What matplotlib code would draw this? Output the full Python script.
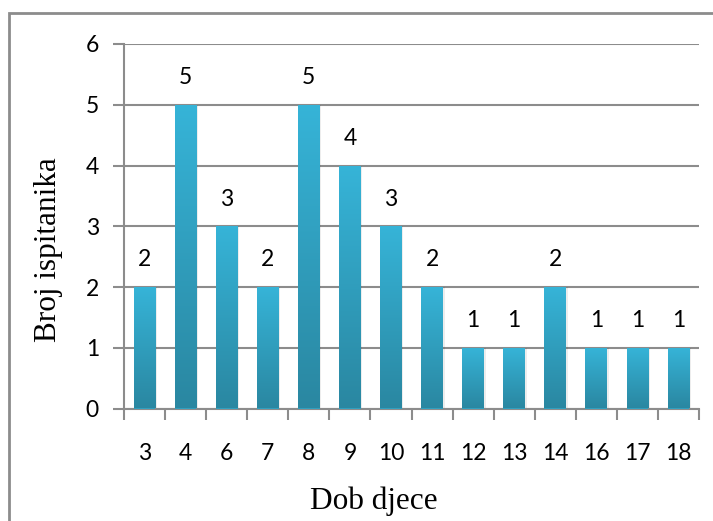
import matplotlib.pyplot as plt
import numpy as np
from matplotlib.colors import LinearSegmentedColormap

# age of children and number of respondents
ages = ["3", "4", "6", "7", "8", "9", "10", "11", "12", "13", "14", "16", "17", "18"]
counts = [2, 5, 3, 2, 5, 4, 3, 2, 1, 1, 2, 1, 1, 1]

tick_font = "Lato"
label_font = "Liberation Serif"
grid_col = "#8c8c8c"
grad = LinearSegmentedColormap.from_list("bar", ["#2a87a1", "#36b4d8"])

fig = plt.figure(figsize=(7.13, 5.21), dpi=100)
ax = fig.add_axes([124 / 713, 1 - 408.5 / 521, 575 / 713, 364.5 / 521])

x = np.arange(len(ages))
bars = ax.bar(x, counts, width=0.53, color="#30a0c0", zorder=3)

# vertical gradient inside each bar + soft shadow on the right
g = np.linspace(0, 1, 256).reshape(-1, 1)
for b in bars:
    x0, w, h = b.get_x(), b.get_width(), b.get_height()
    sh = plt.Rectangle((x0 + 0.04, 0), w, h, color="#000000", alpha=0.07, zorder=2, lw=0)
    ax.add_patch(sh)
    im = ax.imshow(g, cmap=grad, origin="lower", aspect="auto",
                   extent=(x0, x0 + w, 0, h), zorder=3)
    im.set_clip_path(b)

for xi, c in zip(x, counts):
    ax.annotate(str(c), (xi, c), xytext=(0, 12), textcoords="offset points",
                ha="center", va="bottom", fontsize=16.5, family=tick_font)

ax.set_xlim(-0.5, len(ages) - 0.5)
ax.set_ylim(0, 6)
ax.set_yticks(range(7))
ax.set_xticks(np.arange(len(ages) + 1) - 0.5, minor=False)
ax.set_xticklabels([])
ax.set_xticks(x, minor=True)
ax.set_xticklabels(ages, minor=True, fontsize=16.5, family=tick_font)
ax.tick_params(axis="x", which="major", length=8, width=1.5, color=grid_col, direction="out")
ax.tick_params(axis="x", which="minor", length=0, pad=25)
ax.tick_params(axis="y", length=8, width=1.5, color=grid_col, pad=10, labelsize=16.5)
for t in ax.get_yticklabels():
    t.set_family(tick_font)

ax.grid(axis="y", color=grid_col, lw=1.5, zorder=1)
ax.set_axisbelow(True)
for s in ["top", "right"]:
    ax.spines[s].set_visible(False)
for s in ["left", "bottom"]:
    ax.spines[s].set_color(grid_col)
    ax.spines[s].set_linewidth(1.5)

fig.text(49 / 713, 1 - 250 / 521, "Broj ispitanika", rotation=90, ha="center", va="center",
         fontsize=22.5, family=label_font)
fig.text(373.5 / 713, 1 - 501 / 521, "Dob djece", ha="center", va="center",
         fontsize=22.5, family=label_font)

# outer chart border
fig.patches.append(plt.Rectangle((9 / 713, -0.05), 1.0, 1 - 13 / 521 + 0.05, transform=fig.transFigure,
                                 fill=False, edgecolor=grid_col, lw=2))

fig.savefig("out.png", dpi=100)
